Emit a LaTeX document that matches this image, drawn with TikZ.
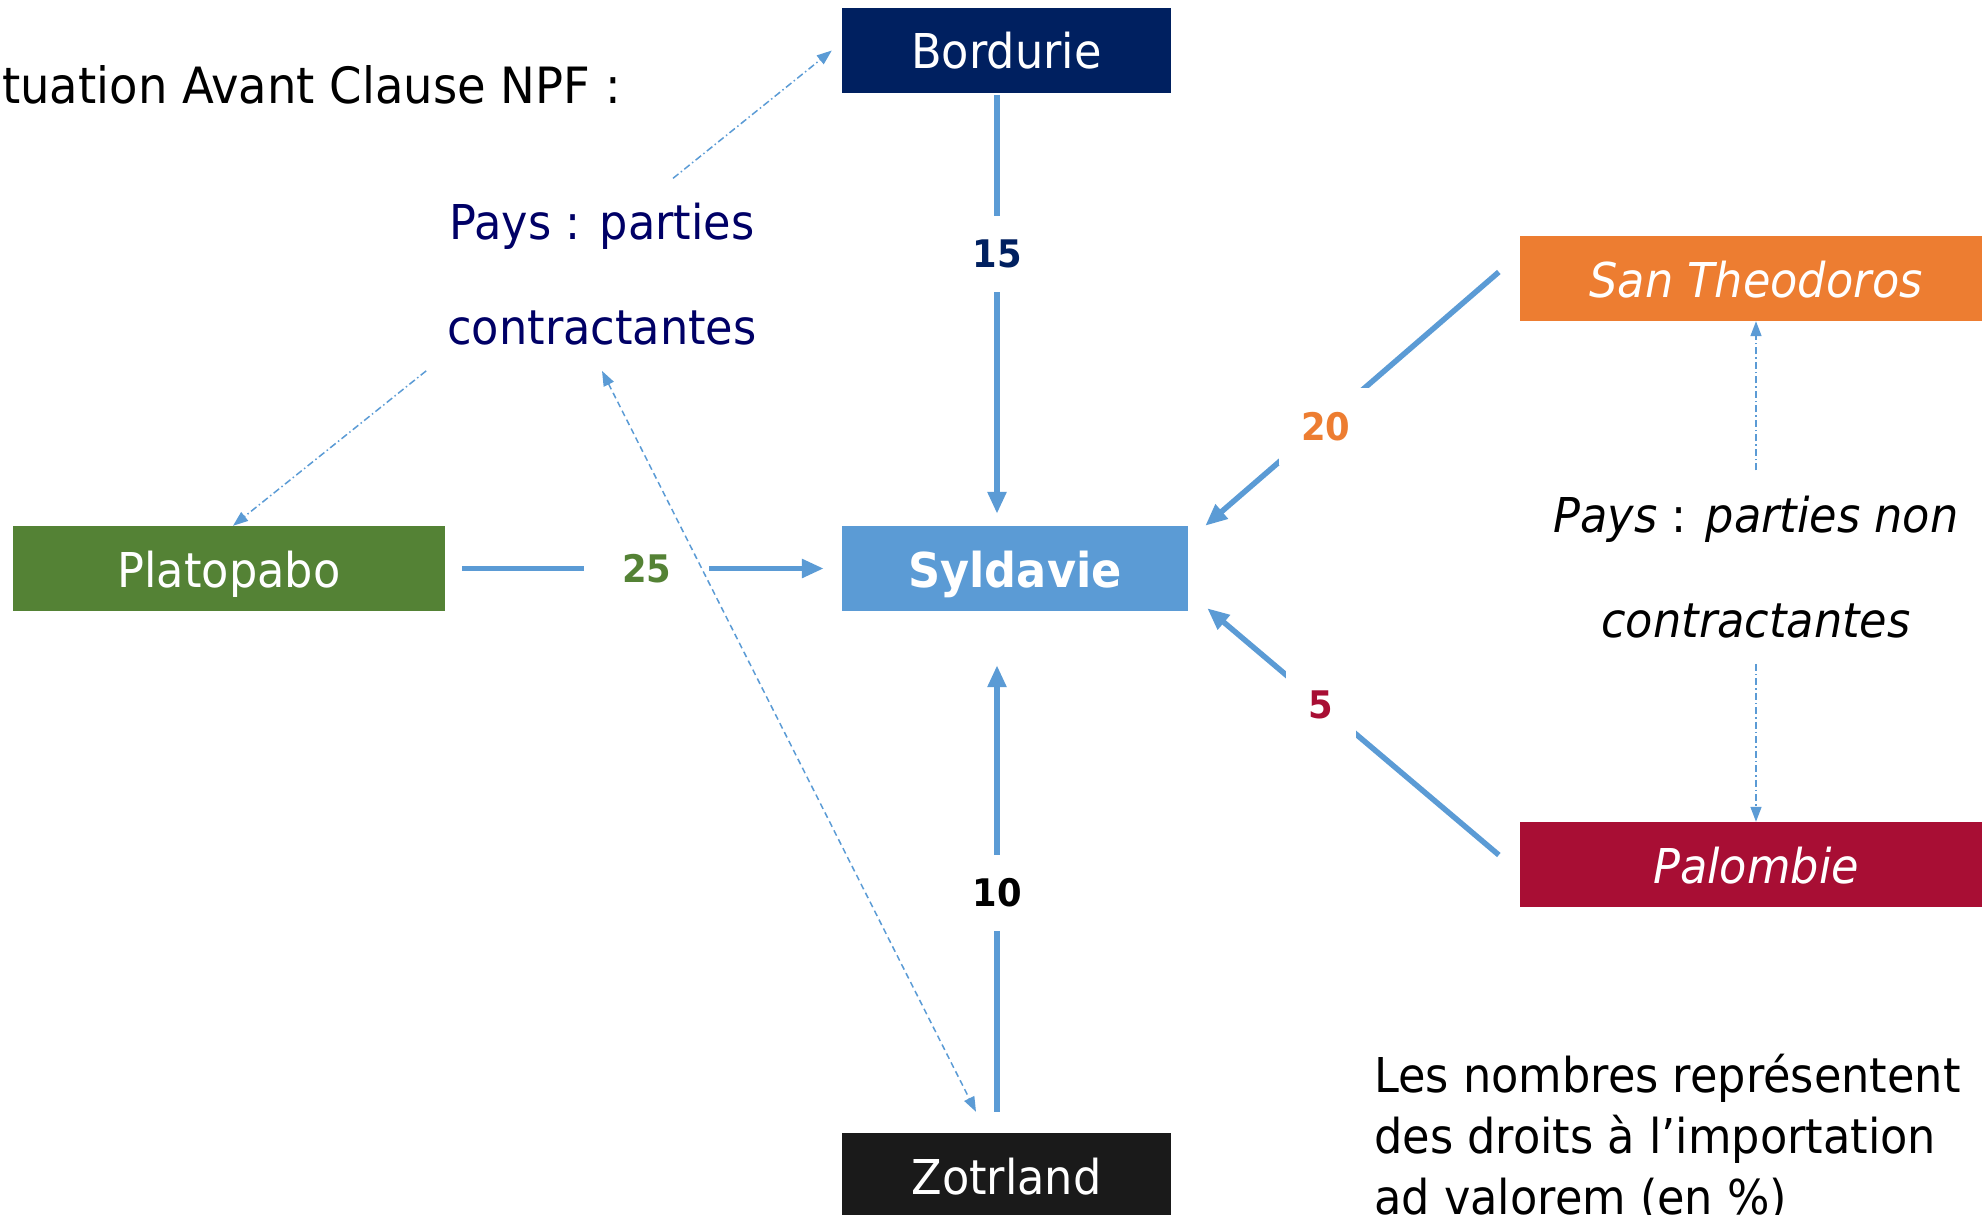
\documentclass[tikz,border=0pt]{standalone}
\usepackage{fontspec}
\setmainfont[FakeStretch=0.93]{DejaVu Sans}
\usetikzlibrary{arrows.meta}

\definecolor{bordblue}{HTML}{002060}
\definecolor{sylblue}{HTML}{5B9BD5}
\definecolor{platgreen}{HTML}{548235}
\definecolor{storange}{HTML}{ED7D31}
\definecolor{palred}{HTML}{A80E34}
\definecolor{zotblack}{HTML}{1A1A1A}
\definecolor{paysblue}{RGB}{0,0,102}

\tikzstyle{pays} = [rectangle, minimum height=85pt, inner sep=0pt, text height=37pt, text depth=0pt, text=white, font=\fontsize{48}{58}\selectfont]
\tikzstyle{note} = [inner sep=0pt, align=center, font=\fontsize{48}{105}\selectfont]
\tikzstyle{droit} = [draw=sylblue, line width=5.5pt, -{Triangle[length=22pt,width=18pt]}]
\tikzstyle{taux} = [fill=white, inner xsep=22pt, inner ysep=24pt, font=\bfseries\fontsize{38}{46}\selectfont]
\tikzstyle{renvoi} = [draw=sylblue, line width=1.5pt, dash pattern=on 7pt off 3pt on 1.5pt off 3pt, -{Triangle[length=15pt,width=11pt]}]

\begin{document}
\begin{tikzpicture}[x=1pt,y=-1pt]
        \useasboundingbox (0,0) rectangle (1982,1215);
        % the countries
        \node (bord) at (1006.5,50.5) [pays, fill=bordblue, minimum width=329pt] {Bordurie};
        \node (syl) at (1015,568.5) [pays, fill=sylblue, minimum width=346pt] {\bfseries Syldavie};
        \node (plat) at (229,568.5) [pays, fill=platgreen, minimum width=432pt] {Platopabo};
        \node (st) at (1756,278.5) [pays, fill=storange, minimum width=472pt] {\itshape San Theodoros};
        \node (pal) at (1756,864.5) [pays, fill=palred, minimum width=472pt] {\itshape Palombie};
        \node (zot) at (1006.5,1175.5) [pays, fill=zotblack, minimum width=329pt] {Zotrland};

        % texts (base = last line)
        \node (titre) at (2,103) [anchor=base west, inner sep=0pt, font=\fontsize{50}{60}\selectfont] {tuation Avant Clause NPF :};
        \node (pc) at (602,344) [note, anchor=base, text=paysblue] {Pays : parties\\contractantes};
        \node (pn) at (1756,637) [note, anchor=base, font=\itshape\fontsize{48}{105}\selectfont] {Pays \textup{:} parties non\\contractantes};
        \node (legende) at (1374,1214) [note, anchor=base west, align=left, font=\fontsize{48}{61}\selectfont] {Les nombres représentent\\des droits à l’importation\\ad valorem (en \%)};

        % import duties
        \draw[droit] ([xshift=-9.5pt,yshift=-2pt]bord.south) -- node[taux, pos=0.38, text=bordblue] {15} ([xshift=-18pt,yshift=12pt]syl.north);
        \draw[droit] ([xshift=-9.5pt,yshift=21pt]zot.north) -- node[taux, pos=0.49] {10} ([xshift=-18pt,yshift=-54pt]syl.south);
        \draw[droit] ([xshift=17pt]plat.east) -- node[taux, pos=0.51, text=platgreen, inner xsep=38pt, inner ysep=10pt] {25} ([xshift=-18pt]syl.west);
        \draw[droit] ([xshift=-21pt,yshift=6.5pt]st.west) -- node[taux, pos=0.61, xshift=6pt, text=storange] {20} ([xshift=17pt]syl.north east);
        \draw[droit] ([xshift=-21pt,yshift=9.5pt]pal.west) -- node[taux, pos=0.61, text=palred, inner xsep=23pt] {5} ([xshift=19pt,yshift=3pt]syl.south east);

        % which countries are parties
        \draw[renvoi] ([xshift=71pt,yshift=24pt]pc.north) -- ([xshift=-10pt]bord.west);
        \draw[renvoi] ([xshift=-21pt,yshift=-26pt]pc.south west) -- ([xshift=4pt]plat.north);
        \draw[renvoi, dash pattern=on 6pt off 4pt, {Triangle[length=15pt,width=11pt]}-{Triangle[length=15pt,width=11pt]}] ([yshift=-26pt]pc.south) -- ([xshift=-30.5pt,yshift=21pt]zot.north);
        \draw[renvoi] ([yshift=25pt]pn.north) -- (st.south);
        \draw[renvoi] ([yshift=-26pt]pn.south) -- (pal.north);
\end{tikzpicture}
\end{document}
